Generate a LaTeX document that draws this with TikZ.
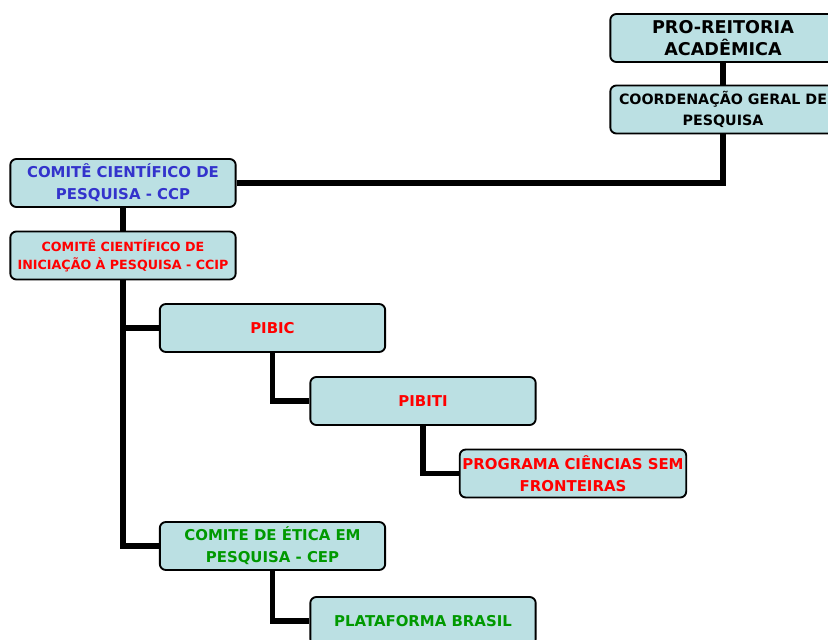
\documentclass[tikz,border=0pt]{standalone}
\usepackage{fontspec}
\setmainfont{DejaVu Sans}
\usetikzlibrary{backgrounds}
\definecolor{boxfill}{HTML}{BBE0E3}
\definecolor{ccpblue}{HTML}{3333CC}
\definecolor{redtxt}{HTML}{FF0000}
\definecolor{greentxt}{HTML}{009900}
\tikzset{
    orgbox/.style={draw=black, line width=1.4pt, fill=boxfill, rounded corners=4.5pt,
        minimum width=169pt, minimum height=36pt, align=center, inner sep=2pt,
        font=\bfseries\fontsize{11.2}{16.3}\selectfont},
    link/.style={line width=3.8pt, black},
}
\begin{document}
\begin{tikzpicture}[x=0.75pt, y=-0.75pt]
        \useasboundingbox (0,0) rectangle (828,639);
        \clip (0,0) rectangle (828,639);

        \node[orgbox, font=\bfseries\fontsize{13.2}{16.5}\selectfont] (pro) at (723,38) {PRO-REITORIA\\ACADÊMICA};
        \node[orgbox, font=\bfseries\fontsize{10.7}{16}\selectfont] (coord) at (723,109.5) {COORDENAÇÃO GERAL DE\\PESQUISA};
        \node[orgbox, text=ccpblue] (ccp) at (123,183) {COMITÊ CIENTÍFICO DE\\PESQUISA - CCP};
        \node[orgbox, text=redtxt, font=\bfseries\fontsize{9.5}{13.5}\selectfont] (ccip) at (123,255.5) {COMITÊ CIENTÍFICO DE\\INICIAÇÃO À PESQUISA - CCIP};
        \node[orgbox, text=redtxt] (pibic) at (272.5,328) {PIBIC};
        \node[orgbox, text=redtxt] (pibiti) at (423,401) {PIBITI};
        \node[orgbox, text=redtxt] (csf) at (573,473.5) {PROGRAMA CIÊNCIAS SEM\\FRONTEIRAS};
        \node[orgbox, text=greentxt] (cep) at (272.5,546) {COMITE DE ÉTICA EM\\PESQUISA - CEP};
        \node[orgbox, text=greentxt] (plat) at (423,621) {PLATAFORMA BRASIL};

        \begin{scope}[on background layer]
            \draw[link] (pro) -- (coord);
            \draw[link] (coord.south) |- (ccp.east);
            \draw[link] (ccp) -- (ccip);
            \draw[link] (ccip.south) |- (pibic.west);
            \draw[link] (ccip.south) |- (cep.west);
            \draw[link] (pibic.south) |- (pibiti.west);
            \draw[link] (pibiti.south) |- (csf.west);
            \draw[link] (cep.south) |- (plat.west);
        \end{scope}
    \end{tikzpicture}
\end{document}
